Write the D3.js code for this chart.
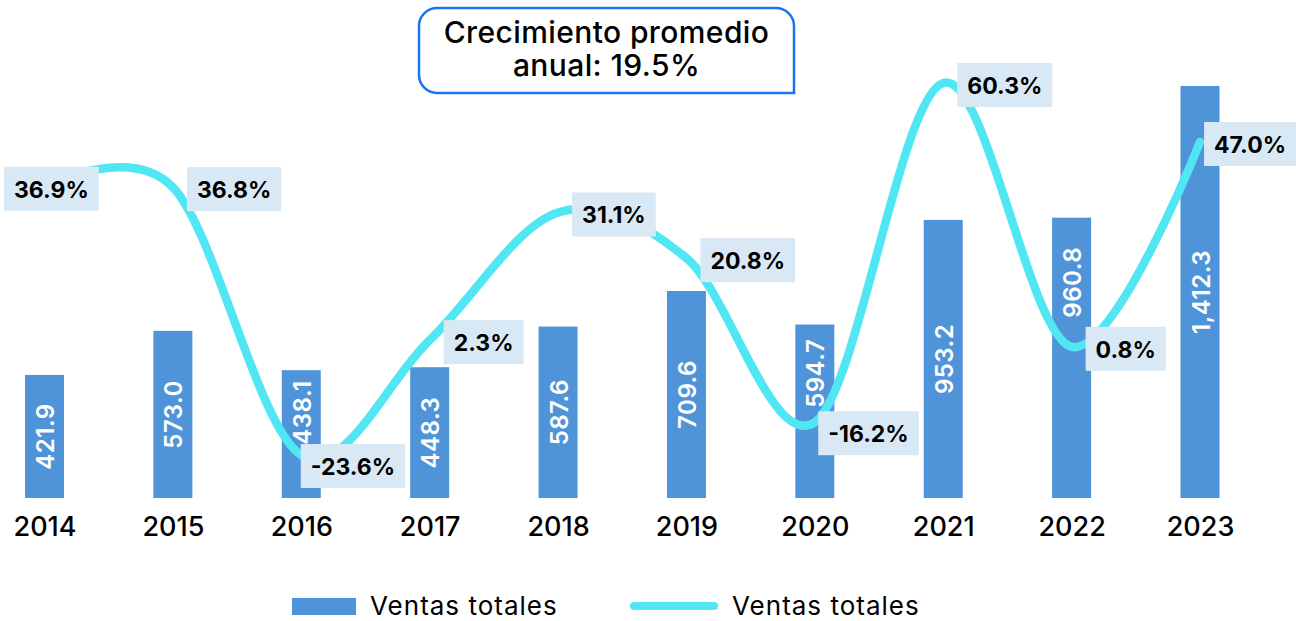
<!DOCTYPE html>
<html>
<head>
<meta charset="utf-8">
<script src="https://cdn.jsdelivr.net/npm/d3@7"></script>
<style>
  body { margin: 0; background: #fff; }
  svg text { font-family: Inter, "Noto Sans", sans-serif; }
</style>
</head>
<body>
<div id="chart"></div>
<script>
// data
var years = ["2014", "2015", "2016", "2017", "2018", "2019", "2020", "2021", "2022", "2023"];
var sales = [421.9, 573.0, 438.1, 448.3, 587.6, 709.6, 594.7, 953.2, 960.8, 1412.3];
var growth = [36.9, 36.8, -23.6, 2.3, 31.1, 20.8, -16.2, 60.3, 0.8, 47.0];
var seriesNames = ["Ventas totales", "Ventas totales"];
var titleLines = ["Crecimiento promedio", "anual: 19.5%"];

var w = 1296, h = 621;
var barWidth = 39;
var barColor = "#4f94d9";
var lineColor = "#50e6f3";
var boxColor = "#d9e8f5";

var svg = d3.select("#chart").append("svg")
  .attr("width", w)
  .attr("height", h);

// scales
var xScale = d3.scalePoint()
  .domain(years)
  .range([44.5, 1200]);

var yBar = d3.scaleLinear()
  .domain([0, 1600])
  .range([498, 31.2]);

var yLine = d3.scaleLinear()
  .domain([-30, 70])
  .range([483.4, 40]);

var data = years.map(function(y, i) {
  return { year: y, sales: sales[i], growth: growth[i] };
});

// bars
svg.selectAll("rect.bar")
  .data(data)
  .enter()
  .append("rect")
  .attr("class", "bar")
  .attr("x", function(d) { return xScale(d.year) - barWidth / 2; })
  .attr("y", function(d) { return yBar(d.sales); })
  .attr("width", barWidth)
  .attr("height", function(d) { return yBar(0) - yBar(d.sales); })
  .attr("fill", barColor);

// growth line
var line = d3.line()
  .x(function(d) { return xScale(d.year); })
  .y(function(d) { return yLine(d.growth); })
  .curve(d3.curveCardinal.tension(0));

var path = svg.append("path")
  .datum(data)
  .attr("d", line)
  .attr("fill", "none")
  .attr("stroke", lineColor)
  .attr("stroke-width", 8.5)
  .attr("stroke-linecap", "round");

// sample the curve so bar labels can step out of its way
var pNode = path.node();
var total = pNode.getTotalLength();
var samples = [];
for (var l = 0; l <= total; l += 1) {
  samples.push(pNode.getPointAtLength(l));
}
function lineYAt(x) {
  var best = samples[0];
  samples.forEach(function(p) {
    if (Math.abs(p.x - x) < Math.abs(best.x - x)) best = p;
  });
  return best.y;
}

// bar value labels (rotated, inside bar)
var fmtSales = d3.format(",.1f");
var barLabels = svg.selectAll("text.barlabel")
  .data(data)
  .enter()
  .append("text")
  .attr("class", "barlabel")
  .attr("text-anchor", "middle")
  .attr("dominant-baseline", "central")
  .attr("font-size", "24px")
  .attr("font-weight", 600)
  .attr("letter-spacing", "0.5px")
  .attr("fill", "#fff")
  .text(function(d) { return fmtSales(d.sales); });

barLabels.each(function(d) {
  var t = d3.select(this);
  var len = this.getComputedTextLength();
  var top = yBar(d.sales), bottom = yBar(0);
  var cx = xScale(d.year);
  var cy = (top + bottom) / 2;
  var ly = lineYAt(cx);
  // line runs through the label: center it between bar top and the line
  if (ly > cy - len / 2 - 10 && ly < cy + len / 2 + 10 && ly > top) {
    cy = (top + ly) / 2;
  }
  t.attr("transform", "translate(" + (cx + 1) + "," + cy + ") rotate(-90)");
});

// growth labels with light boxes
var fmtPct = function(v) { return d3.format(".1f")(v).replace("\u2212", "-") + "%"; };
var pctG = svg.selectAll("g.pct")
  .data(data)
  .enter()
  .append("g")
  .attr("class", "pct");

pctG.each(function(d, i) {
  var g = d3.select(this);
  var rect = g.append("rect").attr("fill", boxColor);
  var txt = g.append("text")
    .attr("font-size", "23px")
    .attr("font-weight", 700)
    .attr("fill", "#000")
    .attr("dominant-baseline", "central")
    .text(fmtPct(d.growth));
  var tw = txt.node().getComputedTextLength();
  var bw = tw + 20, bh = 44;
  var px = xScale(d.year), py = yLine(d.growth);
  // negative values sit a little lower, under the dip
  var top = py + (d.growth < 0 ? 11 : 2) - bh / 2;
  var left = (i === 0) ? Math.max(4, px - bw / 2 + 5) : Math.min(px + 14, w - bw);
  // keep clear of the next bar when the box sits beside it
  if (i < data.length - 1) {
    var next = data[i + 1];
    var nextLeft = xScale(next.year) - barWidth / 2;
    if (top + bh > yBar(next.sales) && left + bw > nextLeft - 5) {
      left = nextLeft - 5 - bw;
    }
  }
  rect.attr("x", left).attr("y", top).attr("width", bw).attr("height", bh);
  txt.attr("x", left + 10).attr("y", top + bh / 2 + 1);
});

// category axis
var xAxis = d3.axisBottom(xScale).tickSize(0).tickPadding(0);
var axisG = svg.append("g")
  .attr("transform", "translate(0,517)")
  .call(xAxis);
axisG.select(".domain").remove();
axisG.selectAll("text")
  .attr("font-size", "27px")
  .attr("font-weight", 500)
  .attr("fill", "#000")
  .attr("dy", "0.71em");

// title box (three rounded corners)
var bx0 = 419, bx1 = 794, by0 = 8, by1 = 93, r = 18;
svg.append("path")
  .attr("d", "M" + (bx0 + r) + "," + by0 +
    " H" + (bx1 - r) + " A" + r + "," + r + " 0 0 1 " + bx1 + "," + (by0 + r) +
    " V" + by1 +
    " H" + (bx0 + r) + " A" + r + "," + r + " 0 0 1 " + bx0 + "," + (by1 - r) +
    " V" + (by0 + r) + " A" + r + "," + r + " 0 0 1 " + (bx0 + r) + "," + by0 + " Z")
  .attr("fill", "#fff")
  .attr("stroke", "#1a73f0")
  .attr("stroke-width", 2.5);

svg.selectAll("text.title")
  .data(titleLines)
  .enter()
  .append("text")
  .attr("class", "title")
  .attr("x", (bx0 + bx1) / 2)
  .attr("y", function(d, i) { return 43 + i * 33; })
  .attr("text-anchor", "middle")
  .attr("font-size", "30px")
  .attr("font-weight", 500)
  .attr("letter-spacing", "0.4px")
  .attr("fill", "#000")
  .text(function(d) { return d; });

// legend
var legend = svg.append("g");
legend.append("rect")
  .attr("x", 292).attr("y", 598)
  .attr("width", 64).attr("height", 17)
  .attr("fill", barColor);
legend.append("text")
  .attr("x", 370).attr("y", 615)
  .attr("font-size", "26px")
  .attr("letter-spacing", "1px")
  .attr("fill", "#000")
  .text(seriesNames[0]);
legend.append("line")
  .attr("x1", 634).attr("x2", 714)
  .attr("y1", 606).attr("y2", 606)
  .attr("stroke", lineColor)
  .attr("stroke-width", 8)
  .attr("stroke-linecap", "round");
legend.append("text")
  .attr("x", 732).attr("y", 615)
  .attr("font-size", "26px")
  .attr("letter-spacing", "1px")
  .attr("fill", "#000")
  .text(seriesNames[1]);
</script>
</body>
</html>
